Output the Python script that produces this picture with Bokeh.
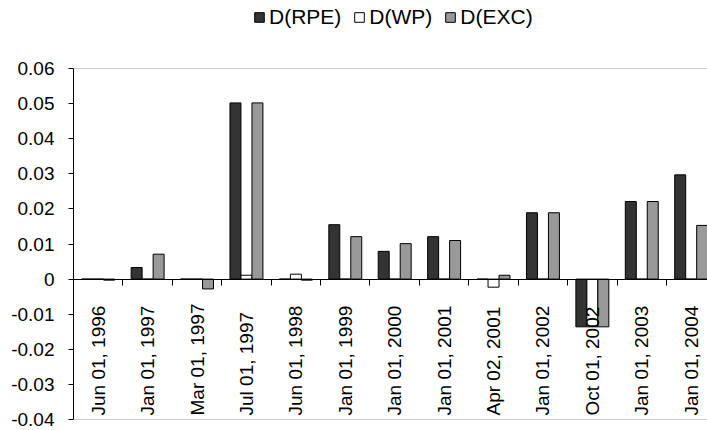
import math
from bokeh.plotting import figure
from bokeh.layouts import column
from bokeh.models import (Range1d, FixedTicker, Span, ColumnDataSource, Legend, LegendItem)
from bokeh.core.properties import value
from bokeh.transform import dodge
from bokeh.embed import file_html
from bokeh.resources import INLINE

# ---- data ----
CATEGORIES = ["Jun 01, 1996", "Jan 01, 1997", "Mar 01, 1997", "Jul 01, 1997",
              "Jun 01, 1998", "Jan 01, 1999", "Jan 01, 2000", "Jan 01, 2001",
              "Apr 02, 2001", "Jan 01, 2002", "Oct 01, 2002", "Jan 01, 2003",
              "Jan 01, 2004"]
D_RPE = [0.0, 0.0033, 0.0, 0.0502, 0.0, 0.0155, 0.0079, 0.0121, 0.0, 0.0189,
         -0.0136, 0.0221, 0.0297]
D_WP = [0.0, 0.0, 0.0, 0.0011, 0.0014, 0.0, 0.0, 0.0, -0.0023, 0.0,
        -0.0136, 0.0, 0.0]
D_EXC = [-0.0003, 0.0071, -0.0028, 0.0502, -0.0003, 0.0121, 0.0101, 0.0110,
         0.0011, 0.0189, -0.0136, 0.0221, 0.0153]
SERIES = ["D(RPE)", "D(WP)", "D(EXC)"]
Y_TICKS = [-0.04, -0.03, -0.02, -0.01, 0.0, 0.01, 0.02, 0.03, 0.04, 0.05, 0.06]
Y_TICK_LABELS = ["-0.04", "-0.03", "-0.02", "-0.01", "0", "0.01", "0.02",
                 "0.03", "0.04", "0.05", "0.06"]

FONT = "Liberation Sans"
Y_MIN, Y_MAX = Y_TICKS[0], Y_TICKS[-1]
FILLS = ["#333333", "#ffffff", "#999999"]

idx = list(range(len(CATEGORIES)))
bar_w = 2.0 / 9.0

# ---- main chart ----
p = figure(width=707, height=396, output_backend="svg", toolbar_location=None,
           x_range=Range1d(-0.5, 12.33), y_range=Range1d(Y_MIN, Y_MAX),
           min_border_left=73, min_border_right=0, min_border_top=34,
           min_border_bottom=11)
p.outline_line_color = None
p.xgrid.visible = False
p.ygrid.visible = False

src = ColumnDataSource(dict(x=idx, rpe=D_RPE, wp=D_WP, exc=D_EXC, lab=CATEGORIES))

cols = ["rpe", "wp", "exc"]
offsets = [-bar_w, 0.0, bar_w]
for col, fc, off in zip(cols, FILLS, offsets):
    p.vbar(x=dodge("x", off), top=col, bottom=0, width=bar_w, source=src,
           fill_color=fc, line_color="black", line_width=1)

# frame top/bottom borders
p.add_layout(Span(location=Y_MAX, dimension="width", line_color="#999999", line_width=1))
p.add_layout(Span(location=Y_MIN, dimension="width", line_color="#999999", line_width=1))

# y axis
yax = p.yaxis[0]
yax.ticker = FixedTicker(ticks=Y_TICKS)
yax.major_label_overrides = {t: l for t, l in zip(Y_TICKS, Y_TICK_LABELS)}
yax.major_tick_in = 0
yax.major_tick_out = 5
yax.minor_tick_out = 0
yax.minor_tick_in = 0
yax.major_label_standoff = 14
yax.axis_line_color = "black"
yax.major_tick_line_color = "black"
yax.major_label_text_font = FONT
yax.major_label_text_font_size = "19px"
yax.major_label_text_color = "black"

# category axis at zero
xax = p.xaxis[0]
xax.fixed_location = 0
xax.ticker = FixedTicker(ticks=[i + 0.5 for i in idx[:-1]])
xax.major_tick_in = 0
xax.major_tick_out = 6
xax.minor_tick_out = 0
xax.minor_tick_in = 0
xax.major_label_text_alpha = 0
xax.major_label_text_font_size = "1px"
xax.major_label_standoff = 0
xax.axis_line_color = "black"
xax.major_tick_line_color = "black"

# category labels inside plot area, rotated
p.text(x="x", y=Y_MIN, text="lab", source=src, angle=math.pi / 2,
       text_align="left", text_baseline="middle", y_offset=-4,
       text_font=value(FONT), text_font_size="19px", text_color="black")

# ---- legend strip above (same borders so frames stay aligned) ----
lf = figure(width=707, height=34, output_backend="svg", toolbar_location=None,
            x_range=Range1d(0, 1), y_range=Range1d(0, 1),
            x_axis_type=None, y_axis_type=None,
            min_border_left=73, min_border_right=0, min_border_top=0,
            min_border_bottom=0)
lf.outline_line_color = None
lf.xgrid.visible = False
lf.ygrid.visible = False
# legend-only renderers: one bar per series, placed outside the strip's visible range
lsrc = ColumnDataSource(dict(x=[-1.0], rpe=D_RPE[:1], wp=D_WP[:1], exc=D_EXC[:1]))
lrs = []
for col, fc in zip(cols, FILLS):
    lrs.append(lf.vbar(x="x", top=col, bottom=0, width=0.1, source=lsrc,
                       fill_color=fc, line_color="black", line_width=1))
lg = Legend(items=[LegendItem(label=s, renderers=[r]) for s, r in zip(SERIES, lrs)],
            orientation="horizontal", location=(180, 5),
            label_text_font=FONT, label_text_font_size="21px",
            label_text_color="black",
            glyph_width=12, glyph_height=12, padding=0, margin=0,
            spacing=12, label_standoff=4, border_line_color=None,
            background_fill_alpha=0)
lf.add_layout(lg, "center")

layout = column(lf, p, spacing=0)
open("out.html", "w").write(file_html(layout, INLINE))
